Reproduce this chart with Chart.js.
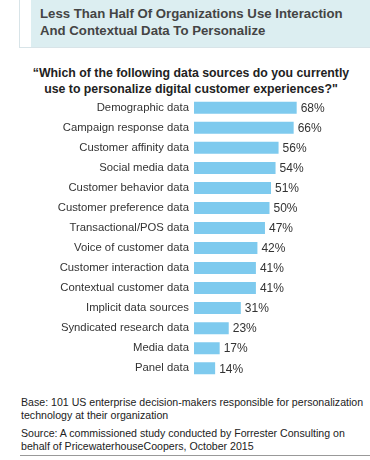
<!DOCTYPE html>
<html>
<head>
<meta charset="utf-8">
<script src="https://cdn.jsdelivr.net/npm/chart.js@4"></script>
<style>
  html, body { margin: 0; padding: 0; background: #fff; }
  body { width: 370px; height: 460px; position: relative; overflow: hidden; font-family: "Liberation Sans", Arial, sans-serif; color: #333; }
  .head { position: absolute; left: 19px; top: 0; width: 351px; height: 47px; border-left: 1px solid #d8e4e8; border-bottom: 1px solid #d8e4e8; }
  .head .fill { position: absolute; left: 11px; top: 0; right: 0; bottom: 0; background: #dceef1; }
  .head .txt { position: absolute; left: 20px; top: 5px; font-weight: bold; font-size: 13.2px; line-height: 17px; color: #444; }
  .question { position: absolute; left: 0; width: 382px; top: 65px; text-align: center; font-weight: bold; font-size: 12.3px; line-height: 16px; color: #222; }
  .chartbox { position: absolute; left: 0; top: 86px; width: 370px; height: 304px; }
  .foot { position: absolute; left: 21px; width: 350px; font-size: 10.6px; line-height: 13px; color: #222; white-space: nowrap; }
  .rule { position: absolute; left: 20px; right: 0; top: 455px; height: 1px; background: #999; }
</style>
</head>
<body>
<div class="head"><div class="fill"></div><div class="txt">Less Than Half Of Organizations Use Interaction<br>And Contextual Data To Personalize</div></div>
<div class="question">“Which of the following data sources do you currently<br>use to personalize digital customer experiences?"</div>
<div class="chartbox"><canvas id="chart"></canvas></div>
<div class="foot" style="top:396px">Base: 101 US enterprise decision-makers responsible for personalization<br>technology at their organization</div>
<div class="foot" style="top:427px">Source: A commissioned study conducted by Forrester Consulting on<br>behalf of PricewaterhouseCoopers, October 2015</div>
<div class="rule"></div>
<script>
const categories = [
  'Demographic data',
  'Campaign response data',
  'Customer affinity data',
  'Social media data',
  'Customer behavior data',
  'Customer preference data',
  'Transactional/POS data',
  'Voice of customer data',
  'Customer interaction data',
  'Contextual customer data',
  'Implicit data sources',
  'Syndicated research data',
  'Media data',
  'Panel data'
];
const percentages = [68, 66, 56, 54, 51, 50, 47, 42, 41, 41, 31, 23, 17, 14];

const valueLabels = {
  id: 'valueLabels',
  afterDatasetsDraw(chart) {
    const ctx = chart.ctx;
    const meta = chart.getDatasetMeta(0);
    ctx.save();
    ctx.font = '12px "Liberation Sans", Arial, sans-serif';
    ctx.fillStyle = '#333';
    ctx.textAlign = 'left';
    ctx.textBaseline = 'middle';
    meta.data.forEach((bar, i) => {
      ctx.fillText(percentages[i] + '%', bar.x + 4, bar.y + 1);
    });
    ctx.restore();
  }
};

new Chart(document.getElementById('chart'), {
  type: 'bar',
  data: {
    labels: categories,
    datasets: [{
      data: percentages,
      backgroundColor: '#7ecaee',
      borderWidth: 0,
      barPercentage: 0.6,
      categoryPercentage: 1
    }]
  },
  options: {
    indexAxis: 'y',
    responsive: true,
    maintainAspectRatio: false,
    animation: false,
    layout: { padding: { left: 0, right: 25, top: 0, bottom: 0 } },
    plugins: { legend: { display: false }, tooltip: { enabled: false } },
    scales: {
      x: { display: false, min: 0, max: 100 },
      y: {
        grid: { display: false, drawTicks: false },
        border: { display: false },
        afterFit: (scale) => { scale.width = 194; },
        ticks: {
          padding: 5,
          color: '#333',
          font: { family: '"Liberation Sans", Arial, sans-serif', size: 11.3 }
        }
      }
    }
  },
  plugins: [valueLabels]
});
</script>
</body>
</html>
